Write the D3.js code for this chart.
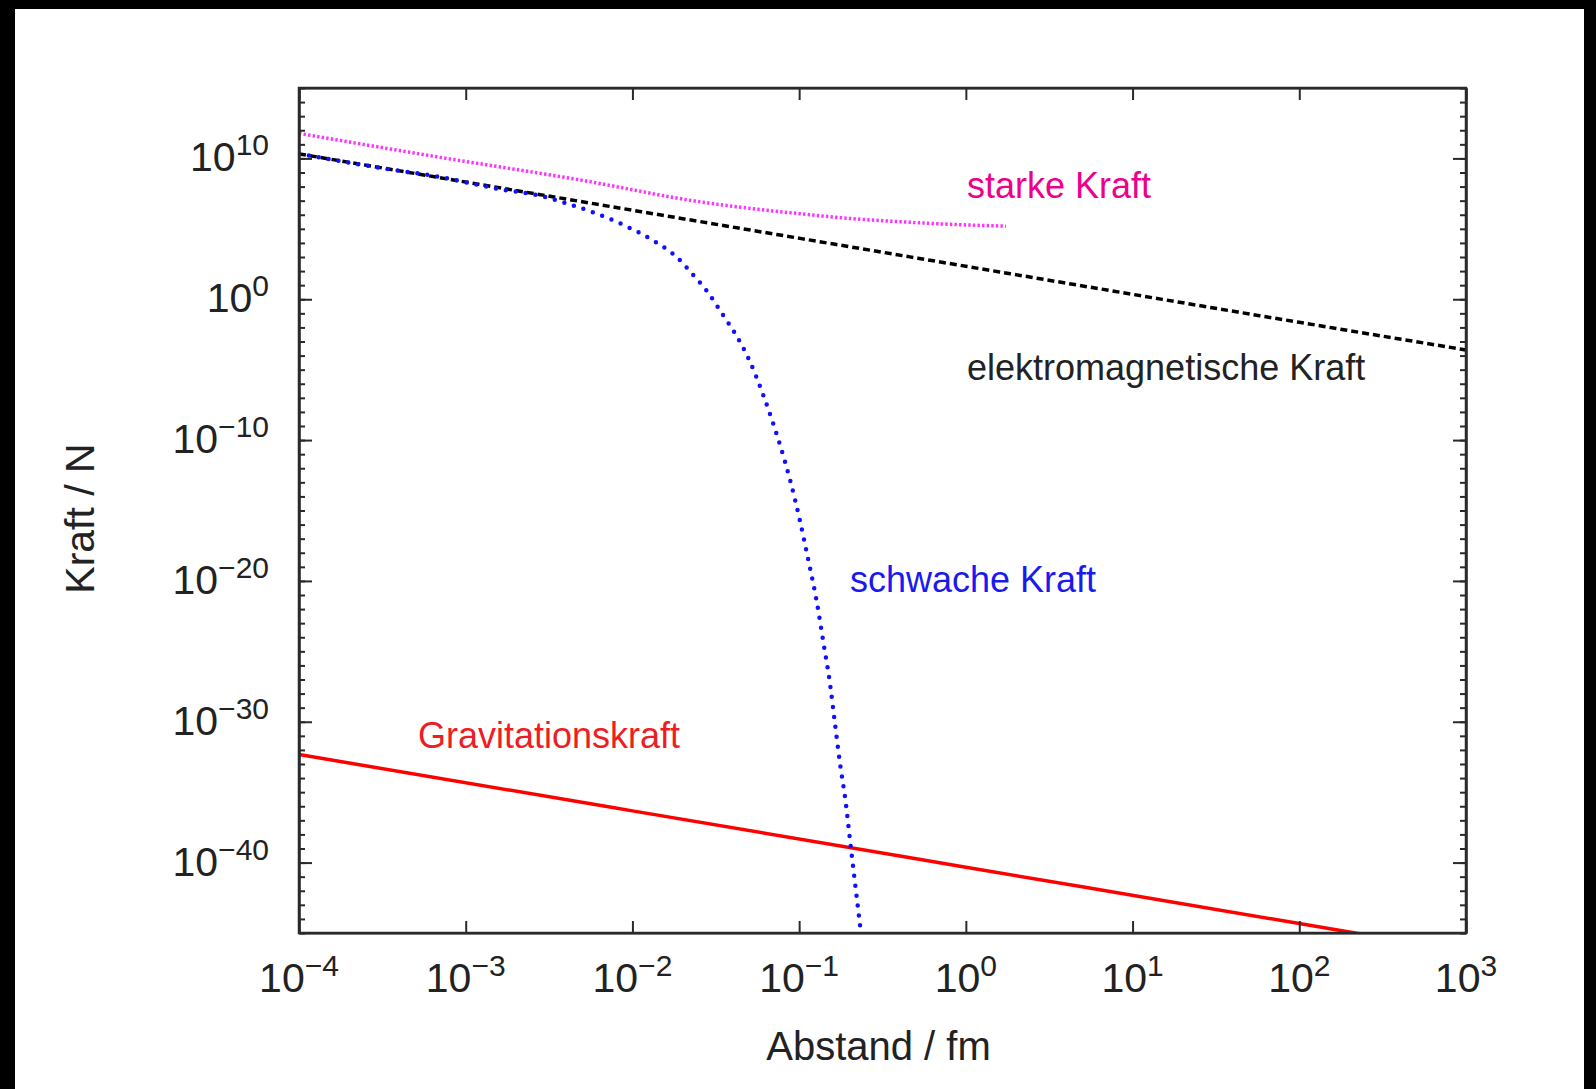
<!DOCTYPE html>
<html>
<head>
<meta charset="utf-8">
<script src="https://cdn.jsdelivr.net/npm/d3@7"></script>
<style>
  html, body { margin: 0; padding: 0; background: #000; }
  svg { display: block; }
  text { font-family: "Liberation Sans", Arial, sans-serif; }
</style>
</head>
<body>
<div id="chart"></div>
<script>
/* DATA (distance in fm, force in N) */
const xTickExp = [-4, -3, -2, -1, 0, 1, 2, 3];
const yTickExp = [-40, -30, -20, -10, 0, 10];

const emX = [1e-4, 1e-2, 1, 1e2, 1e3];
const emY = [2.1e10, 2.1e6, 2.2e2, 2.3e-2, 2.5e-4];

const gravX = [1e-4, 1e-2, 1, 1e2, 1e3];
const gravY = [4.7e-33, 4.7e-37, 4.7e-41, 4.7e-45, 4.7e-47];

const strongX = [1e-4, 7e-4, 4.9e-3, 2.54e-2, 0.1, 0.2, 0.4, 0.8, 1.74];
const strongY = [6.0e11, 1.2e10, 2.9e8, 8.3e6, 1.2e6, 5.5e5, 3.2e5, 2.1e5, 1.55e5];

const weakX = [1e-4, 3.2e-4, 7.0e-4, 1.6e-3, 2.67e-3, 4.04e-3, 6.1e-3, 9.2e-3, 1.34e-2, 1.84e-2,
  2.32e-2, 2.79e-2, 3.52e-2, 4.13e-2, 5.08e-2, 6.25e-2, 7.52e-2, 8.83e-2, 0.101, 0.1135,
  0.1276, 0.1396, 0.1531, 0.164, 0.1758, 0.1884, 0.2046, 0.2344];
const weakY = [2.1e10, 2.0e9, 4.8e8, 6.5e7, 2.5e7, 6.3e6, 1.2e6, 1.5e5, 1.4e4, 1.0e3,
  51, 4.0, 6.6e-2, 3.7e-3, 3.5e-5, 6.8e-8, 1e-10, 1.4e-13, 2.0e-16, 3.0e-19,
  3.2e-22, 4.7e-25, 5.1e-28, 7.4e-31, 1.1e-33, 4.6e-36, 1e-39, 1.2e-45];

/* LAYOUT */
const width = 1596, height = 1089;
const plot = { left: 299, right: 1466, top: 88, bottom: 933 };
const axisColor = "#2a2a2a";

const svg = d3.select("#chart").append("svg")
  .attr("width", width)
  .attr("height", height);

// white page inside the black border
svg.append("rect")
  .attr("x", 15).attr("y", 9)
  .attr("width", 1584 - 15).attr("height", height - 9)
  .attr("fill", "#fff");

const x = d3.scaleLog().domain([1e-4, 1e3]).range([plot.left, plot.right]);
const y = d3.scaleLog().domain([1e-45, 1e15]).range([plot.bottom, plot.top]);

const xMajor = xTickExp.map(e => Math.pow(10, e));
const yMajor = yTickExp.map(e => Math.pow(10, e));
const yMinor = d3.range(-45, 16).map(e => Math.pow(10, e));

// clip for the curves
svg.append("clipPath").attr("id", "clip")
  .append("rect")
  .attr("x", plot.left).attr("y", plot.top)
  .attr("width", plot.right - plot.left).attr("height", plot.bottom - plot.top);

const line = d3.line()
  .x(d => x(d[0]))
  .y(d => y(d[1]))
  .curve(d3.curveMonotoneX);

const curves = svg.append("g").attr("clip-path", "url(#clip)");

curves.append("path")
  .datum(d3.zip(gravX, gravY))
  .attr("d", line)
  .attr("fill", "none")
  .attr("stroke", "#ff0000")
  .attr("stroke-width", 3.5);

curves.append("path")
  .datum(d3.zip(strongX, strongY))
  .attr("d", line)
  .attr("fill", "none")
  .attr("stroke", "#ff33ff")
  .attr("stroke-width", 3.5)
  .attr("stroke-dasharray", "2.4 2.2");

curves.append("path")
  .datum(d3.zip(emX, emY))
  .attr("d", line)
  .attr("fill", "none")
  .attr("stroke", "#000")
  .attr("stroke-width", 3.5)
  .attr("stroke-dasharray", "7 4");

curves.append("path")
  .datum(d3.zip(weakX, weakY))
  .attr("d", line)
  .attr("fill", "none")
  .attr("stroke", "#1010ff")
  .attr("stroke-width", 4.5)
  .attr("stroke-linecap", "round")
  .attr("stroke-dasharray", "0 10");

// AXES (ticks pointing inwards, mirrored on top/right)
function styleAxis(g) {
  g.selectAll("path, line").attr("stroke", axisColor).attr("stroke-width", 2);
  g.selectAll("text").remove();
}

svg.append("g")
  .attr("transform", `translate(0,${plot.bottom})`)
  .call(d3.axisBottom(x).tickValues(xMajor).tickSize(-12).tickSizeOuter(0))
  .call(styleAxis);

svg.append("g")
  .attr("transform", `translate(0,${plot.top})`)
  .call(d3.axisTop(x).tickValues(xMajor).tickSize(-12).tickSizeOuter(0))
  .call(styleAxis);

svg.append("g")
  .attr("transform", `translate(${plot.left},0)`)
  .call(d3.axisLeft(y).tickValues(yMinor).tickSize(-6).tickSizeOuter(0))
  .call(styleAxis);
svg.append("g")
  .attr("transform", `translate(${plot.left},0)`)
  .call(d3.axisLeft(y).tickValues(yMajor).tickSize(-13).tickSizeOuter(0))
  .call(styleAxis);

svg.append("g")
  .attr("transform", `translate(${plot.right},0)`)
  .call(d3.axisRight(y).tickValues(yMinor).tickSize(-6).tickSizeOuter(0))
  .call(styleAxis);
svg.append("g")
  .attr("transform", `translate(${plot.right},0)`)
  .call(d3.axisRight(y).tickValues(yMajor).tickSize(-13).tickSizeOuter(0))
  .call(styleAxis);

// frame
svg.append("rect")
  .attr("x", plot.left).attr("y", plot.top)
  .attr("width", plot.right - plot.left).attr("height", plot.bottom - plot.top)
  .attr("fill", "none")
  .attr("stroke", axisColor)
  .attr("stroke-width", 2.5);

// tick labels 10^n
function powerLabel(sel, exp) {
  sel.append("tspan").text("10");
  sel.append("tspan")
    .attr("dy", -16)
    .attr("font-size", 30)
    .text(String(exp).replace("-", "\u2212"));
}

svg.append("g").selectAll("text")
  .data(xTickExp)
  .join("text")
  .attr("x", d => x(Math.pow(10, d)))
  .attr("y", 992)
  .attr("text-anchor", "middle")
  .attr("font-size", 41)
  .attr("fill", "#222")
  .each(function(d) { powerLabel(d3.select(this), d); });

svg.append("g").selectAll("text")
  .data(yTickExp)
  .join("text")
  .attr("x", 269)
  .attr("y", d => y(Math.pow(10, d)) + 13)
  .attr("text-anchor", "end")
  .attr("font-size", 41)
  .attr("fill", "#222")
  .each(function(d) { powerLabel(d3.select(this), d); });

// axis titles
svg.append("text")
  .attr("x", (plot.left + plot.right) / 2 - 4)
  .attr("y", 1060)
  .attr("text-anchor", "middle")
  .attr("font-size", 40)
  .attr("fill", "#222")
  .text("Abstand / fm");

svg.append("text")
  .attr("transform", `translate(94,${(plot.top + plot.bottom) / 2 + 8}) rotate(-90)`)
  .attr("text-anchor", "middle")
  .attr("font-size", 41)
  .attr("fill", "#222")
  .text("Kraft / N");

// curve labels
const labels = [
  { text: "starke Kraft", x: 967, y: 198, color: "#ec008c" },
  { text: "elektromagnetische Kraft", x: 967, y: 380, color: "#222" },
  { text: "schwache Kraft", x: 850, y: 592, color: "#1a1aee" },
  { text: "Gravitationskraft", x: 418, y: 748, color: "#f01c24" }
];

svg.append("g").selectAll("text")
  .data(labels)
  .join("text")
  .attr("x", d => d.x)
  .attr("y", d => d.y)
  .attr("font-size", 36)
  .attr("fill", d => d.color)
  .text(d => d.text);
</script>
</body>
</html>
